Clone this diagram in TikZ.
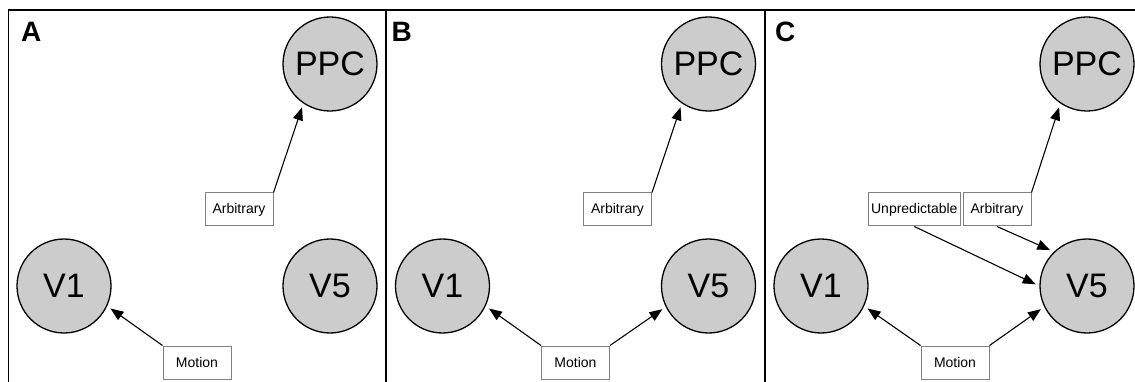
\documentclass[tikz,border=0pt]{standalone}
\usepackage{fontspec}
\setmainfont{Liberation Sans}
\usepackage{xcolor}
\usepackage{tikz}
\usetikzlibrary{arrows.meta}

\definecolor{areagray}{HTML}{CCCCCC}
\definecolor{boxgray}{HTML}{808080}

\begin{document}
\begin{tikzpicture}[
  x=1pt, y=-1pt,
  area/.style={draw, circle, line width=1.3pt, fill=areagray, minimum size=94pt, inner sep=0pt, font=\fontsize{34}{34}\selectfont},
  stim/.style={draw=boxgray, line width=1pt, fill=white, minimum width=68pt, minimum height=33pt, inner xsep=2.5pt, inner ysep=0pt, font=\fontsize{14}{14}\selectfont},
  lbl/.style={anchor=base west, inner sep=0pt, font=\fontsize{28}{28}\selectfont\bfseries},
  arr/.style={-{Triangle[length=13pt, width=10pt]}, line width=1.1pt, shorten >=4pt},
  frame/.style={line width=1.3pt},
]
\useasboundingbox (0,0) rectangle (1135,382);
% panel frames
\draw[frame] (8.5,382) -- (8.5,10) -- (1135,10);
\draw[frame] (386,10) -- (386,382);
\draw[frame] (765,10) -- (765,382);
% panel A
\node[lbl] (labA) at (21,41.5) {A};
\node[area] (ppcA) at (330,64) {PPC};
\node[area] (v1A) at (64,286) {V1};
\node[area] (v5A) at (330,286) {V5};
\node[stim] (arbA) at (239,209.5) {Arbitrary};
\node[stim] (motA) at (197,362.5) {Motion};
\draw[arr] (arbA.north east) -- (ppcA.236);
\draw[arr] (motA.north west) -- (v1A.335);
% panel B
\begin{scope}[xshift=378.5pt]
\node[lbl] (labB) at (13,41.5) {B};
\node[area] (ppcB) at (330,64) {PPC};
\node[area] (v1B) at (64,286) {V1};
\node[area] (v5B) at (330,286) {V5};
\node[stim] (arbB) at (239,209.5) {Arbitrary};
\node[stim] (motB) at (197,362.5) {Motion};
\draw[arr] (arbB.north east) -- (ppcB.236);
\draw[arr] (motB.north west) -- (v1B.335);
\draw[arr] (motB.north east) -- (v5B.206);
\end{scope}
% panel C
\begin{scope}[xshift=757pt]
\node[lbl] (labC) at (18,41.5) {C};
\node[area] (ppcC) at (330,64) {PPC};
\node[area] (v1C) at (64,286) {V1};
\node[area] (v5C) at (330,286) {V5};
\node[stim] (arbC) at (240,209.5) {Arbitrary};
\node[stim, anchor=east, xshift=-2pt] (unpC) at (arbC.west) {Unpredictable};
\node[stim] (motC) at (198,362.5) {Motion};
\draw[arr] (arbC.north east) -- (ppcC.236);
\draw[arr] (arbC.south) -- (v5C.134);
\draw[arr] (unpC.south) -- (v5C.west);
\draw[arr] (motC.north west) -- (v1C.335);
\draw[arr] (motC.north east) -- (v5C.206);
\end{scope}
\end{tikzpicture}
\end{document}
